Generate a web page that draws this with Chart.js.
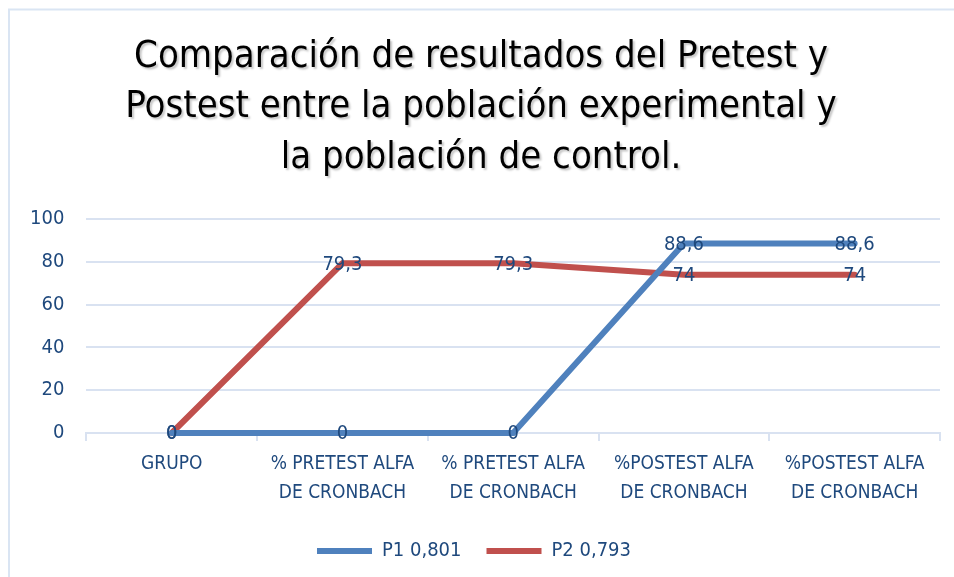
<!DOCTYPE html>
<html lang="es">
<head>
<meta charset="UTF-8">
<title>Comparación Pretest Postest</title>
<script src="https://cdn.jsdelivr.net/npm/chart.js"></script>
<style>
  html, body { margin: 0; padding: 0; background: #fff; }
  .caja { position: relative; width: 954px; height: 577px; overflow: hidden; }
  canvas { position: absolute; left: 0; top: 0; }
</style>
</head>
<body>
<div class="caja">
  <canvas id="grafico" width="954" height="577"></canvas>
</div>
<script>
// datos del grafico
const categorias = [
  'GRUPO',
  ['% PRETEST ALFA', 'DE CRONBACH'],
  ['% PRETEST ALFA', 'DE CRONBACH'],
  ['%POSTEST ALFA', 'DE CRONBACH'],
  ['%POSTEST ALFA', 'DE CRONBACH']
];
const serieP1 = [0, 0, 0, 88.6, 88.6];
const serieP2 = [0, 79.3, 79.3, 74, 74];
const nombresSeries = ['P1 0,801', 'P2 0,793'];
const ticksY = [0, 20, 40, 60, 80, 100];
const tituloLineas = [
  'Comparación de resultados del Pretest y',
  'Postest entre la población experimental y',
  'la población de control.'
];

const fuente = '"Liberation Sans Narrow", "DejaVu Sans Condensed", sans-serif';
const azulTexto = '#1f497d';
const rejilla = '#d9e2f1';

// borde, titulo con sombra y etiquetas de datos
const extras = {
  id: 'extras',
  beforeDraw(chart) {
    const ctx = chart.ctx;
    ctx.save();
    ctx.strokeStyle = '#dae5f3';
    ctx.lineWidth = 2;
    ctx.beginPath();
    ctx.moveTo(9, 577);
    ctx.lineTo(9, 9.5);
    ctx.lineTo(954, 9.5);
    ctx.stroke();
    ctx.restore();
  },
  afterDraw(chart) {
    const ctx = chart.ctx;
    ctx.save();
    ctx.font = '38px ' + fuente;
    ctx.fillStyle = '#000';
    ctx.textAlign = 'center';
    ctx.textBaseline = 'alphabetic';
    ctx.shadowColor = 'rgba(0,0,0,0.22)';
    ctx.shadowOffsetX = 2;
    ctx.shadowOffsetY = 2;
    ctx.shadowBlur = 2;
    const bases = [67, 117, 168];
    tituloLineas.forEach((t, i) => ctx.fillText(t, 481, bases[i]));
    ctx.restore();
  },
  afterDatasetsDraw(chart) {
    const ctx = chart.ctx;
    ctx.save();
    ctx.font = '20px ' + fuente;
    ctx.fillStyle = azulTexto;
    ctx.textAlign = 'center';
    ctx.textBaseline = 'middle';
    chart.data.datasets.forEach((ds, i) => {
      const meta = chart.getDatasetMeta(i);
      meta.data.forEach((pt, j) => {
        const txt = String(ds.data[j]).replace('.', ',');
        ctx.fillText(txt, pt.x, pt.y + 1);
      });
    });
    ctx.restore();
  }
};

new Chart('grafico', {
  type: 'line',
  data: {
    labels: categorias,
    datasets: [
      {
        label: nombresSeries[0],
        data: serieP1,
        borderColor: '#4f81bd',
        backgroundColor: '#4f81bd',
        borderWidth: 6,
        pointRadius: 0,
        tension: 0,
        clip: false,
        borderCapStyle: 'round'
      },
      {
        label: nombresSeries[1],
        data: serieP2,
        borderColor: '#c0504d',
        backgroundColor: '#c0504d',
        borderWidth: 6,
        pointRadius: 0,
        tension: 0,
        clip: false,
        borderCapStyle: 'round'
      }
    ]
  },
  options: {
    responsive: false,
    animation: false,
    layout: { padding: { top: 219, left: 8, right: 14, bottom: 6 } },
    plugins: {
      title: { display: false },
      tooltip: { enabled: false },
      legend: {
        position: 'bottom',
        labels: {
          usePointStyle: true,
          pointStyle: 'line',
          pointStyleWidth: 55,
          boxHeight: 6,
          padding: 25,
          color: azulTexto,
          font: { family: fuente, size: 20 }
        }
      }
    },
    scales: {
      x: {
        offset: true,
        grid: {
          offset: true,
          drawOnChartArea: false,
          color: rejilla,
          tickLength: 8,
          lineWidth: 2
        },
        border: { color: rejilla, width: 2 },
        ticks: {
          color: azulTexto,
          font: { family: fuente, size: 19, lineHeight: 1.5 },
          maxRotation: 0,
          autoSkip: false,
          padding: 9
        }
      },
      y: {
        min: 0,
        max: 100,
        afterBuildTicks(scale) {
          scale.ticks = ticksY.map(v => ({ value: v }));
        },
        grid: { color: rejilla, lineWidth: 2, drawTicks: false },
        border: { display: false },
        ticks: {
          color: azulTexto,
          font: { family: fuente, size: 20 },
          padding: 22
        }
      }
    }
  },
  plugins: [extras]
});
</script>
</body>
</html>
